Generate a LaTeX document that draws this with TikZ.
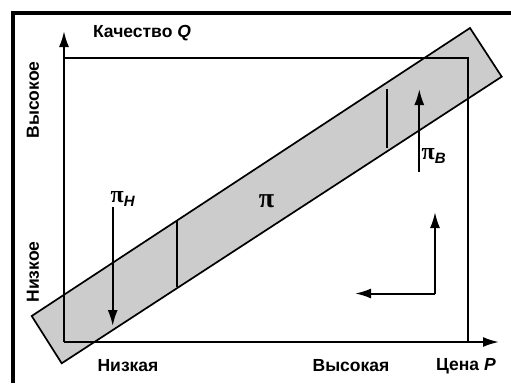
\documentclass[tikz,border=0pt]{standalone}
\usepackage{fontspec}
\setmainfont{Liberation Sans}
\newfontfamily\pifont{Liberation Serif}
\usetikzlibrary{arrows.meta}
\definecolor{bandgray}{RGB}{204,204,204}
\tikzset{
  lbl/.style={font=\fontsize{17.5}{19}\selectfont\bfseries, inner sep=0pt},
  pilbl/.style={font=\fontsize{24}{26}\selectfont\bfseries, inner sep=0pt},
  axisline/.style={line width=2pt},
  arr/.style={line width=2pt, -{Latex[length=16pt,width=10pt]}},
  tick/.style={line width=2pt},
  frameline/.style={line width=4.5pt},
}
\newcommand{\mypi}{{\pifont\bfseries π}}
\newcommand{\mysub}[1]{\raisebox{-4pt}{\fontsize{15}{16}\selectfont\bfseries\itshape #1}}
\begin{document}
\begin{tikzpicture}[x=1pt,y=-1pt]
\useasboundingbox (0,0) rectangle (511,383);
% frame (top and left)
\coordinate (f1) at (511,13);
\coordinate (f2) at (13,13);
\coordinate (f3) at (13,383);
\draw[frameline] (f1) -- (f2) -- (f3);
% band
\coordinate (bA) at (31.7,316);
\coordinate (bB) at (470,28);
\coordinate (bC) at (501.7,76.7);
\coordinate (bD) at (61.7,363.3);
\filldraw[fill=bandgray, line width=1.7pt] (bA) -- (bB) -- (bC) -- (bD) -- cycle;
% axes and box
\coordinate (o) at (64,342);
\coordinate (ytip) at (64,31);
\coordinate (xtip) at (499,342);
\coordinate (tl) at (64,58);
\coordinate (tr) at (468,58);
\coordinate (br) at (468,342);
\draw[arr] (o) -- (ytip);
\draw[arr] (o) -- (xtip);
\draw[axisline] (tl) -- (tr) -- (br);
% ticks in band
\coordinate (t1a) at (176.7,220.5);
\coordinate (t1b) at (176.7,287);
\coordinate (t2a) at (386.7,89);
\coordinate (t2b) at (386.7,148);
\draw[tick] (t1a) -- (t1b);
\draw[tick] (t2a) -- (t2b);
% pi arrows
\coordinate (pHs) at (112.7,207);
\coordinate (pHe) at (112.7,326);
\draw[arr] (pHs) -- (pHe);
\coordinate (pBs) at (419.3,172);
\coordinate (pBe) at (419.3,89);
\draw[arr] (pBs) -- (pBe);
\node[pilbl, anchor=base west] (piH) at (110.5,202.5) {\mypi\mysub{H}};
\node[pilbl, anchor=base west] (piB) at (421.5,159.5) {\mypi\mysub{B}};
\node[pilbl, font=\fontsize{28}{30}\selectfont\bfseries] (pi) at (266.5,201) {\mypi};
% L arrows
\coordinate (lc) at (435,293.5);
\coordinate (lu) at (435,212);
\coordinate (ll) at (355,293.5);
\draw[arr] (lc) -- (lu);
\draw[arr] (lc) -- (ll);
% labels
\node[lbl] (q) at (142,33) {Качество \textit{Q}};
\node[lbl, rotate=90] (vh) at (33,100) {Высокое};
\node[lbl, rotate=90] (vl) at (33,272) {Низкое};
\node[lbl] (pl) at (128,366) {Низкая};
\node[lbl] (ph) at (351,366) {Высокая};
\node[lbl] (p) at (466,366) {Цена \textit{P}};
\end{tikzpicture}
\end{document}
